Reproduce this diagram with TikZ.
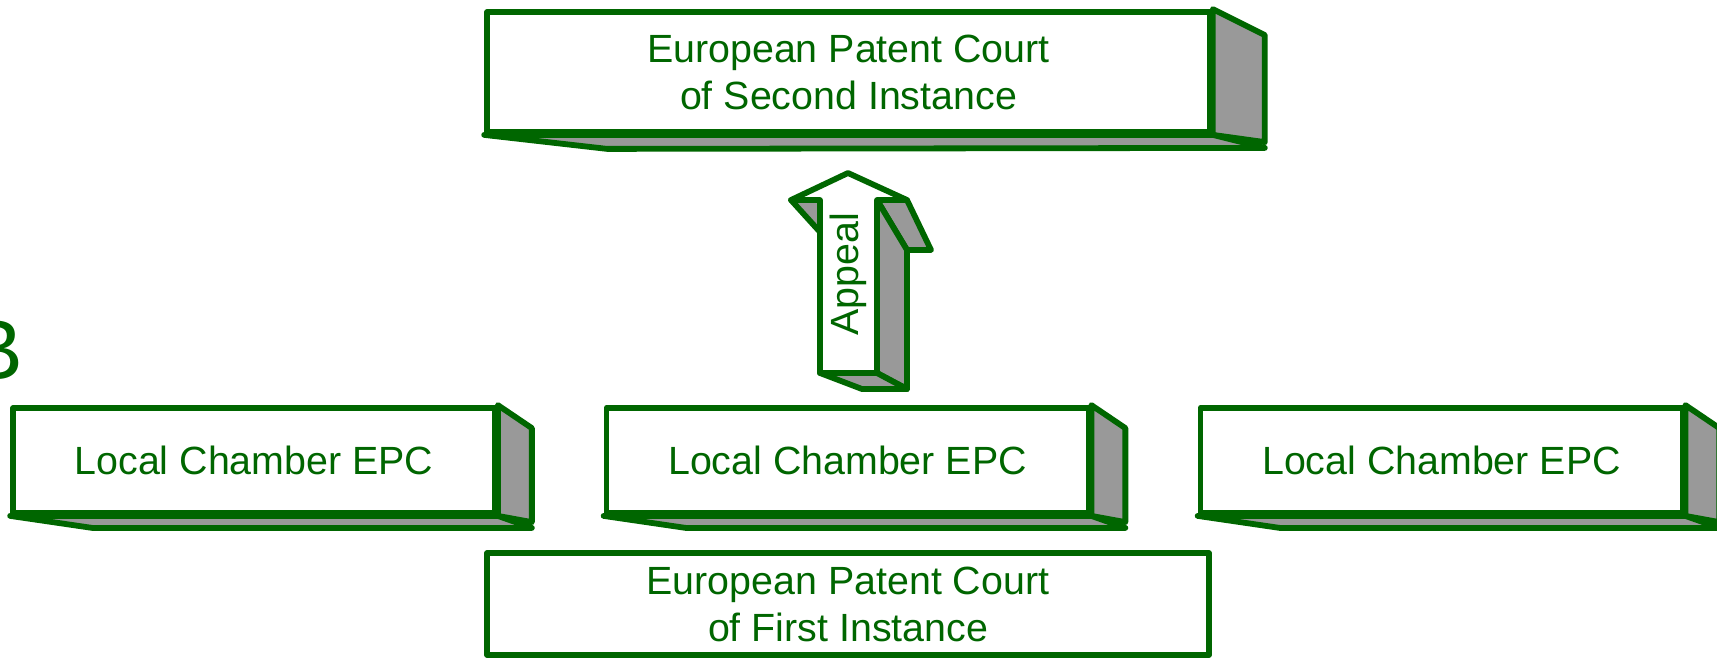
\documentclass[tikz,border=0pt]{standalone}
\usepackage{fontspec}
\setmainfont{Liberation Sans}
\definecolor{epcgreen}{RGB}{0,102,0}
\definecolor{epcgrey}{RGB}{153,153,153}
\begin{document}
\begin{tikzpicture}[x=0.02cm,y=-0.02cm,line width=3.3pt,line join=round,
    court/.style={draw=epcgreen,fill=white,text=epcgreen,inner sep=0pt,align=center,
      font=\fontsize{22.4}{26.7}\selectfont},
    face/.style={draw=epcgreen,fill=epcgrey}]
    \useasboundingbox (0,0) rectangle (1717,657);
    % label at the left edge
    \node[text=epcgreen,inner sep=0pt,anchor=base east,font=\fontsize{48.4}{58}\selectfont] (lbl) at (26,379) {B};
    % second instance
    \node[court,minimum width=14.46cm,minimum height=2.4cm] (second) at (848.5,72) {European Patent Court\\of Second Instance};
    \draw[face] (second.north east) -- ++(52,26) -- ++(0,107) -- (second.south east) -- cycle;
    \draw[face] (second.south west) -- ([shift={(123,14)}]second.south west) -- ([shift={(52,13)}]second.south east) -- (second.south east) -- cycle;
    % local chambers
    \foreach \name/\x in {left/254, mid/847.5, right/1441.5} {
        \node[court,minimum width=9.64cm,minimum height=2.1cm] (\name) at (\x,460.5) {Local Chamber EPC};
        \draw[face] (\name.north east) -- ++(34,23) -- ++(0,94) -- (\name.south east) -- cycle;
        \draw[face] (\name.south west) -- ([shift={(82,12)}]\name.south west) -- ([shift={(34,12)}]\name.south east) -- (\name.south east) -- cycle;
    }
    % first instance
    \node[court,minimum width=14.44cm,minimum height=2.04cm] (first) at (848,604) {European Patent Court\\of First Instance};
    % appeal arrow
    \draw[face] (791,200) -- (820,200) -- (820,232) -- cycle;
    \draw[face] (877,200) -- (907,200) -- (931,250) -- (907,250) -- cycle;
    \draw[face] (877,200) -- (907,250) -- (907,389) -- (877,373) -- cycle;
    \draw[face] (820,373) -- (877,373) -- (907,389) -- (862,389) -- cycle;
    \draw[draw=epcgreen,fill=white] (820,373) -- (820,200) -- (791,200) -- (848,173) -- (907,200) -- (877,200) -- (877,373) -- cycle;
    \node[text=epcgreen,rotate=90,inner sep=0pt,font=\fontsize{22.4}{26.7}\selectfont] (appeal) at (848,274) {Appeal};
\end{tikzpicture}
\end{document}
